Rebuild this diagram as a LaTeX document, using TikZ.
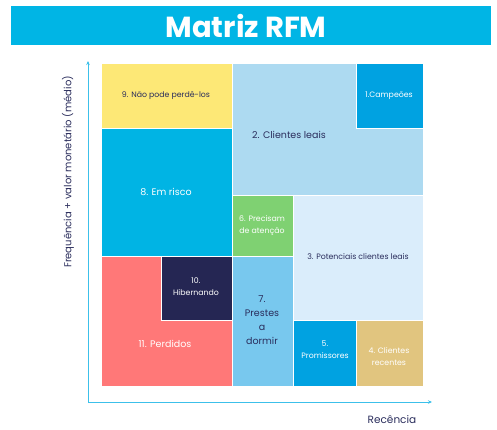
\documentclass[tikz,border=0pt]{standalone}
\usepackage{fontspec}
\setmainfont{Poppins}
\usetikzlibrary{arrows.meta}
\definecolor{banner}{HTML}{00B5E5}
\definecolor{cyellow}{HTML}{FDE876}
\definecolor{cloyal}{HTML}{ADDAF1}
\definecolor{cchamp}{HTML}{00A2E1}
\definecolor{crisk}{HTML}{00B4E4}
\definecolor{cgreen}{HTML}{7FD172}
\definecolor{cpot}{HTML}{DAEDFB}
\definecolor{clost}{HTML}{FF7878}
\definecolor{cnavy}{HTML}{252653}
\definecolor{csleep}{HTML}{78C8EE}
\definecolor{crecent}{HTML}{E1C57F}
\definecolor{caxis}{HTML}{3CC0EA}
\definecolor{ctext}{HTML}{2A2D5C}
\begin{document}
\begin{tikzpicture}[x=1pt,y=-1pt,
  cell/.style={draw=white,line width=0.4pt,inner sep=0pt,outer sep=0pt},
  small/.style={font=\fontsize{7.8}{12}\selectfont,align=center,inner sep=0pt},
  big/.style={font=\fontsize{9.5}{14}\selectfont,align=center,inner sep=0pt},
  axisline/.style={draw=caxis,line width=0.9pt,-{Stealth[length=4pt,width=3.5pt]}}]
\useasboundingbox (0,0) rectangle (497,429);
% banner
\fill[banner] (11,6) rectangle (491,45);
\node[font=\fontsize{29}{32}\selectfont\bfseries,text=white,inner sep=0pt] (title) at (246,26) {Matriz RFM};
% cells
\path[cell,fill=cyellow] (101,63) rectangle (232,128);
\path[cell,fill=cloyal] (232,63) rectangle (423,195);
\path[cell,fill=cchamp] (356,63) rectangle (423,128);
\path[cell,fill=crisk] (101,128) rectangle (232,256);
\path[cell,fill=cgreen] (232,195) rectangle (293,256);
\path[cell,fill=cpot] (293,195) rectangle (423,320);
\path[cell,fill=clost] (101,256) rectangle (232,386);
\path[cell,fill=cnavy] (161,256) rectangle (232,320);
\path[cell,fill=csleep] (232,256) rectangle (293,386);
\path[cell,fill=cchamp] (293,320) rectangle (356,386);
\path[cell,fill=crecent] (356,320) rectangle (423,386);
% labels
\node[small,text=ctext] (t9) at (166,96) {9. Não pode perdê-los};
\node[small,text=white] (t1) at (389,96) {1.Campeões};
\node[big,text=ctext] (t2) at (289,135) {2. Clientes leais};
\node[big,text=white] (t8) at (166,192) {8. Em risco};
\node[small,text=white] (t6) at (262,226) {6. Precisam\\de atenção};
\node[small,text=ctext] (t3) at (358,257) {3. Potenciais clientes leais};
\node[small,text=white] (t10) at (196,287) {10.\\Hibernando};
\node[big,text=ctext] (t7) at (262,320) {7.\\Prestes\\a\\dormir};
\node[big,text=white] (t11) at (165,344) {11. Perdidos};
\node[small,text=white] (t5) at (325,350) {5.\\Promissores};
\node[small,text=white] (t4) at (389,357) {4. Clientes\\recentes};
% axes
\coordinate (orig) at (88,403);
\coordinate (ytop) at (88,61);
\coordinate (xend) at (432,402);
\coordinate (xstart) at (88,402);
\draw[axisline] (orig) -- (ytop);
\draw[axisline] (xstart) -- (xend);
\node[font=\fontsize{10.5}{12}\selectfont,text=ctext,inner sep=0pt] (xl) at (392,420) {Recência};
\node[font=\fontsize{10}{12}\selectfont,text=ctext,inner sep=0pt,rotate=90] (yl) at (68,172) {Frequência + valor monetário (médio)};
\end{tikzpicture}
\end{document}
